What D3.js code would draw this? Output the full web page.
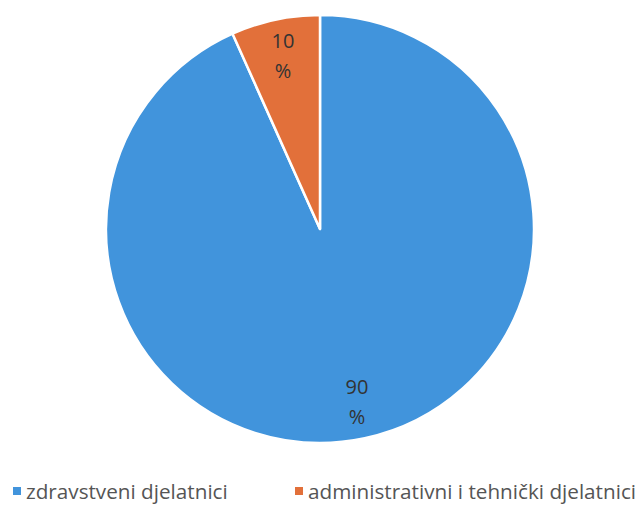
<!DOCTYPE html>
<html>
<head>
<meta charset="utf-8">
<script src="https://cdn.jsdelivr.net/npm/d3@7"></script>
<style>
  body { margin: 0; background: #fff; }
  svg { display: block; }
</style>
</head>
<body>
<svg width="642" height="506"></svg>
<script>
var categories = ['zdravstveni djelatnici', 'administrativni i tehnički djelatnici'];
var shares = [93.3, 6.7];
var pctLabels = ['90', '10'];
var colors = ['#4194dc', '#e2703a'];

var svg = d3.select('svg');
var cx = 320;
var cy = 229;
var radius = 214;
var labelR = 177;

var pie = d3.pie()
  .sort(null)
  .value(function (d) { return d; });

var arcs = pie(shares);

var arc = d3.arc()
  .innerRadius(0)
  .outerRadius(radius);

var g = svg.append('g')
  .attr('transform', 'translate(' + cx + ',' + cy + ')');

g.selectAll('path')
  .data(arcs)
  .enter()
  .append('path')
  .attr('d', arc)
  .attr('fill', function (d, i) { return colors[i]; })
  .attr('stroke', '#fff')
  .attr('stroke-width', 2.5)
  .attr('stroke-linejoin', 'round');

// data labels, number over percent sign
var lbl = g.selectAll('.lbl')
  .data(arcs)
  .enter()
  .append('text')
  .attr('class', 'lbl')
  .attr('transform', function (d) {
    var a = (d.startAngle + d.endAngle) / 2;
    return 'translate(' + (Math.sin(a) * labelR) + ',' + (-Math.cos(a) * labelR) + ')';
  })
  .attr('text-anchor', 'middle')
  .style('font-family', 'Open Sans, sans-serif')
  .style('font-size', '20px')
  .attr('fill', '#333');

lbl.append('tspan')
  .attr('x', 0)
  .attr('y', -8)
  .text(function (d, i) { return pctLabels[i]; });

lbl.append('tspan')
  .attr('x', 0)
  .attr('y', 22)
  .text('%');

// legend
var legendX = [13, 295];
var leg = svg.selectAll('.leg')
  .data(categories)
  .enter()
  .append('g')
  .attr('class', 'leg')
  .attr('transform', function (d, i) { return 'translate(' + legendX[i] + ',487)'; });

leg.append('rect')
  .attr('width', 8)
  .attr('height', 8)
  .attr('fill', function (d, i) { return colors[i]; });

leg.append('text')
  .attr('x', 13)
  .attr('y', 12)
  .style('font-family', 'Open Sans, sans-serif')
  .style('font-size', '20.7px')
  .attr('fill', '#555')
  .text(function (d) { return d; });
</script>
</body>
</html>
